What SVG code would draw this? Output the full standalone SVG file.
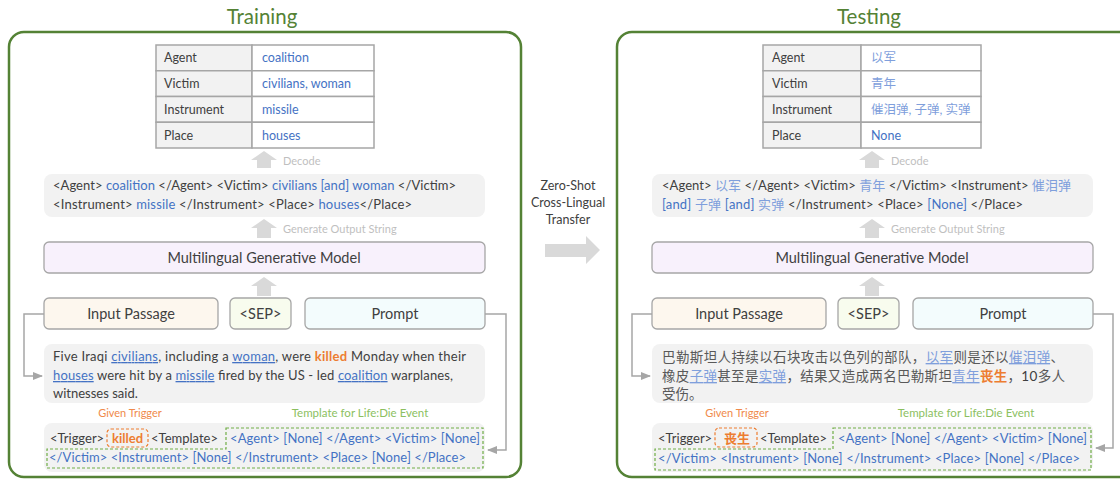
<svg xmlns="http://www.w3.org/2000/svg" width="1120" height="479" viewBox="0 0 1120 479">
<defs>
<style>
text{font-family:Lato,"Noto Sans CJK SC",sans-serif;fill:#404040}
.title{font-size:20.5px;fill:#548235;text-anchor:middle}
.panel{fill:#fff;stroke:#548235;stroke-width:2.5}
.cellh{fill:#f2f2f2;stroke:#a6a6a6;stroke-width:1.5}
.cellv{fill:#fff;stroke:#a6a6a6;stroke-width:1.5}
.tt{font-size:12.5px}
.b{fill:#4472c4}
.lb{fill:#7f9fdc}
.o{fill:#ed7d31;font-weight:bold}
.gbox{fill:#f2f2f2}
.lbl{font-size:11px;fill:#bfbfbf}
.blk{fill:#d9d9d9}
.node{stroke:#a6a6a6;stroke-width:1.3}
.nt{font-size:14.5px;text-anchor:middle}
.s{font-size:13px}
.cn{font-size:13.5px;fill:#595959}
.conn{fill:none;stroke:#a6a6a6;stroke-width:1.5}
.gt{font-size:11px;fill:#f08a4b;text-anchor:middle}
.tl{font-size:11.5px;fill:#8cbf5f;text-anchor:middle}
.dgo{fill:none;stroke:#ed7d31;stroke-width:1.2;stroke-dasharray:3 2}
.dgg{fill:none;stroke:#70ad47;stroke-width:1.2;stroke-dasharray:3 2}
.u{text-decoration:underline}
</style>
<marker id="ah" viewBox="0 0 10 10" refX="9" refY="5" markerWidth="7" markerHeight="7" orient="auto-start-reverse">
<path d="M0,1 L10,5 L0,9 z" fill="#a6a6a6"/>
</marker>
</defs>

<!-- Titles and panels -->
<text class="title" x="262" y="24">Training</text>
<text class="title" x="869" y="24">Testing</text>
<rect class="panel" x="9" y="32" width="512" height="445" rx="15"/>
<rect class="panel" x="617" y="32" width="520" height="445" rx="15"/>

<!-- Left table -->
<g id="table-left">
<rect class="cellh" x="156" y="45" width="96" height="25.75"/>
<rect class="cellv" x="252" y="45" width="122" height="25.75"/>
<rect class="cellh" x="156" y="70.75" width="96" height="25.75"/>
<rect class="cellv" x="252" y="70.75" width="122" height="25.75"/>
<rect class="cellh" x="156" y="96.5" width="96" height="25.75"/>
<rect class="cellv" x="252" y="96.5" width="122" height="25.75"/>
<rect class="cellh" x="156" y="122.25" width="96" height="25.75"/>
<rect class="cellv" x="252" y="122.25" width="122" height="25.75"/>
<text class="tt" x="164" y="62">Agent</text>
<text class="tt" x="164" y="88">Victim</text>
<text class="tt" x="164" y="113.5">Instrument</text>
<text class="tt" x="164" y="139.5">Place</text>
<text class="tt b" x="262" y="62">coalition</text>
<text class="tt b" x="262" y="88">civilians, woman</text>
<text class="tt b" x="262" y="113.5">missile</text>
<text class="tt b" x="262" y="139.5">houses</text>
</g>

<!-- Right table -->
<g id="table-right">
<rect class="cellh" x="763" y="45" width="98" height="25.75"/>
<rect class="cellv" x="861" y="45" width="120" height="25.75"/>
<rect class="cellh" x="763" y="70.75" width="98" height="25.75"/>
<rect class="cellv" x="861" y="70.75" width="120" height="25.75"/>
<rect class="cellh" x="763" y="96.5" width="98" height="25.75"/>
<rect class="cellv" x="861" y="96.5" width="120" height="25.75"/>
<rect class="cellh" x="763" y="122.25" width="98" height="25.75"/>
<rect class="cellv" x="861" y="122.25" width="120" height="25.75"/>
<text class="tt" x="772" y="62">Agent</text>
<text class="tt" x="772" y="88">Victim</text>
<text class="tt" x="772" y="113.5">Instrument</text>
<text class="tt" x="772" y="139.5">Place</text>
<text class="tt lb" x="871" y="62">以军</text>
<text class="tt lb" x="871" y="88">青年</text>
<text class="tt lb" x="871" y="113.5">催泪弹, 子弹, 实弹</text>
<text class="tt b" x="871" y="139.5">None</text>
</g>

<!-- Connectors / arrows -->
<g id="connectors">
<polygon class="blk" points="264,151 277,160 271,160 271,168 257,168 257,160 251,160"/>
<text class="lbl" x="283" y="165">Decode</text>
<polygon class="blk" points="264,219 277,228 271,228 271,238 257,238 257,228 251,228"/>
<text class="lbl" x="283" y="233">Generate Output String</text>
<polygon class="blk" points="264,277 277,286 271,286 271,296 257,296 257,286 251,286"/>
<polygon class="blk" points="872,151 885,160 879,160 879,168 865,168 865,160 859,160"/>
<text class="lbl" x="891" y="165">Decode</text>
<polygon class="blk" points="872,219 885,228 879,228 879,238 865,238 865,228 859,228"/>
<text class="lbl" x="891" y="233">Generate Output String</text>
<polygon class="blk" points="872,277 885,286 879,286 879,296 865,296 865,286 859,286"/>
<polygon class="blk" points="545,244 586,244 586,236 600,250 586,264 586,257 545,257"/>
<path class="conn" d="M44,314 H24 V376 H42" marker-end="url(#ah)"/>
<path class="conn" d="M485,314 H506 V450 H488" marker-end="url(#ah)"/>
<path class="conn" d="M652,314 H632 V376 H650" marker-end="url(#ah)"/>
<path class="conn" d="M1093,314 H1113 V448 H1096" marker-end="url(#ah)"/>
</g>

<!-- Transfer label -->
<g id="transfer">
<text x="568" y="190" style="font-size:12.5px;text-anchor:middle">Zero-Shot</text>
<text x="568" y="207" style="font-size:12.5px;text-anchor:middle">Cross-Lingual</text>
<text x="568" y="224" style="font-size:12.5px;text-anchor:middle">Transfer</text>
</g>

<!-- Left output string -->
<g id="output-left">
<rect class="gbox" x="44" y="174" width="441" height="43" rx="8"/>
<text class="s" x="53" y="190" textLength="403" lengthAdjust="spacing">&lt;Agent&gt; <tspan class="b">coalition</tspan> &lt;/Agent&gt; &lt;Victim&gt; <tspan class="b">civilians [and] woman</tspan> &lt;/Victim&gt;</text>
<text class="s" x="53" y="209" textLength="359" lengthAdjust="spacing">&lt;Instrument&gt; <tspan class="b">missile</tspan> &lt;/Instrument&gt; &lt;Place&gt; <tspan class="b">houses</tspan>&lt;/Place&gt;</text>
</g>

<!-- Right output string -->
<g id="output-right">
<rect class="gbox" x="652" y="174" width="441" height="43" rx="8"/>
<text class="s" x="662" y="190" textLength="409" lengthAdjust="spacing">&lt;Agent&gt; <tspan class="lb">以军</tspan> &lt;/Agent&gt; &lt;Victim&gt; <tspan class="lb">青年</tspan> &lt;/Victim&gt; &lt;Instrument&gt; <tspan class="lb">催泪弹</tspan></text>
<text class="s" x="662" y="209" textLength="361" lengthAdjust="spacing"><tspan class="b">[and]</tspan> <tspan class="lb">子弹</tspan> <tspan class="b">[and]</tspan> <tspan class="lb">实弹</tspan> &lt;/Instrument&gt; &lt;Place&gt; <tspan class="b">[None]</tspan> &lt;/Place&gt;</text>
</g>

<!-- Models -->
<g id="model-left">
<rect class="node" x="44" y="242" width="441" height="31" rx="5" fill="#f8f1fc"/>
<text class="nt" x="264" y="263">Multilingual Generative Model</text>
</g>
<g id="model-right">
<rect class="node" x="652" y="242" width="441" height="31" rx="5" fill="#f8f1fc"/>
<text class="nt" x="872" y="263">Multilingual Generative Model</text>
</g>

<!-- Input nodes left -->
<g id="input-left">
<rect class="node" x="44" y="298" width="174" height="31" rx="5" fill="#fdf7ee"/>
<text class="nt" x="131" y="319">Input Passage</text>
</g>
<g id="sep-left">
<rect class="node" x="230" y="298" width="61" height="31" rx="5" fill="#f8fcee"/>
<text class="nt" x="260.5" y="319">&lt;SEP&gt;</text>
</g>
<g id="prompt-left">
<rect class="node" x="305" y="298" width="180" height="31" rx="5" fill="#f3fcfd"/>
<text class="nt" x="395" y="319">Prompt</text>
</g>

<!-- Input nodes right -->
<g id="input-right">
<rect class="node" x="652" y="298" width="174" height="31" rx="5" fill="#fdf7ee"/>
<text class="nt" x="739" y="319">Input Passage</text>
</g>
<g id="sep-right">
<rect class="node" x="838" y="298" width="61" height="31" rx="5" fill="#f8fcee"/>
<text class="nt" x="868.5" y="319">&lt;SEP&gt;</text>
</g>
<g id="prompt-right">
<rect class="node" x="913" y="298" width="180" height="31" rx="5" fill="#f3fcfd"/>
<text class="nt" x="1003" y="319">Prompt</text>
</g>

<!-- Left passage -->
<g id="passage-left">
<rect class="gbox" x="44" y="344" width="441" height="59" rx="8"/>
<text class="s" x="53" y="361" textLength="413" lengthAdjust="spacing">Five Iraqi <tspan class="b u">civilians</tspan>, including a <tspan class="b u">woman</tspan>, were <tspan class="o">killed</tspan> Monday when their</text>
<text class="s" x="53" y="380" textLength="400" lengthAdjust="spacing"><tspan class="b u">houses</tspan> were hit by a <tspan class="b u">missile</tspan> fired by the US - led <tspan class="b u">coalition</tspan> warplanes,</text>
<text class="s" x="53" y="398">witnesses said.</text>
</g>

<!-- Right passage -->
<g id="passage-right">
<rect class="gbox" x="652" y="344" width="441" height="59" rx="8"/>
<text class="cn" x="662" y="362" textLength="402" lengthAdjust="spacing">巴勒斯坦人持续以石块攻击以色列的部队，<tspan class="lb u">以军</tspan>则是还以<tspan class="lb u">催泪弹</tspan>、</text>
<text class="cn" x="662" y="381" textLength="403" lengthAdjust="spacing">橡皮<tspan class="lb u">子弹</tspan>甚至是<tspan class="lb u">实弹</tspan>，结果又造成两名巴勒斯坦<tspan class="lb u">青年</tspan><tspan class="o">丧生</tspan>，<tspan fill="#404040">10</tspan>多人</text>
<text class="cn" x="662" y="399">受伤。</text>
</g>

<!-- Left template -->
<g id="template-left">
<text class="gt" x="130" y="417">Given Trigger</text>
<text class="tl" x="360" y="417">Template for Life:Die Event</text>
<rect class="gbox" x="44" y="423" width="441" height="49" rx="8"/>
<rect class="dgo" x="107" y="429" width="41" height="18" rx="4"/>
<polygon class="dgg" points="226,428 483,428 483,468 47,468 47,449 226,449"/>
<text class="s" x="50" y="443">&lt;Trigger&gt;</text>
<text class="s o" x="112" y="443">killed</text>
<text class="s" x="151" y="443">&lt;Template&gt;</text>
<text class="s b" x="230" y="443" textLength="250" lengthAdjust="spacing">&lt;Agent&gt; [None] &lt;/Agent&gt; &lt;Victim&gt; [None]</text>
<text class="s b" x="49" y="462" textLength="417" lengthAdjust="spacing">&lt;/Victim&gt; &lt;Instrument&gt; [None] &lt;/Instrument&gt; &lt;Place&gt; [None] &lt;/Place&gt;</text>
</g>

<!-- Right template -->
<g id="template-right">
<text class="gt" x="737" y="417">Given Trigger</text>
<text class="tl" x="966" y="417">Template for Life:Die Event</text>
<rect class="gbox" x="652" y="423" width="441" height="49" rx="8"/>
<rect class="dgo" x="715" y="428" width="42" height="19" rx="4"/>
<polygon class="dgg" points="833,428 1091,428 1091,470 655,470 655,449 833,449"/>
<text class="s" x="658" y="443">&lt;Trigger&gt;</text>
<text class="s o" x="724" y="443">丧生</text>
<text class="s" x="760" y="443">&lt;Template&gt;</text>
<text class="s b" x="838" y="443" textLength="249" lengthAdjust="spacing">&lt;Agent&gt; [None] &lt;/Agent&gt; &lt;Victim&gt; [None]</text>
<text class="s b" x="658" y="463" textLength="422" lengthAdjust="spacing">&lt;/Victim&gt; &lt;Instrument&gt; [None] &lt;/Instrument&gt; &lt;Place&gt; [None] &lt;/Place&gt;</text>
</g>
</svg>
